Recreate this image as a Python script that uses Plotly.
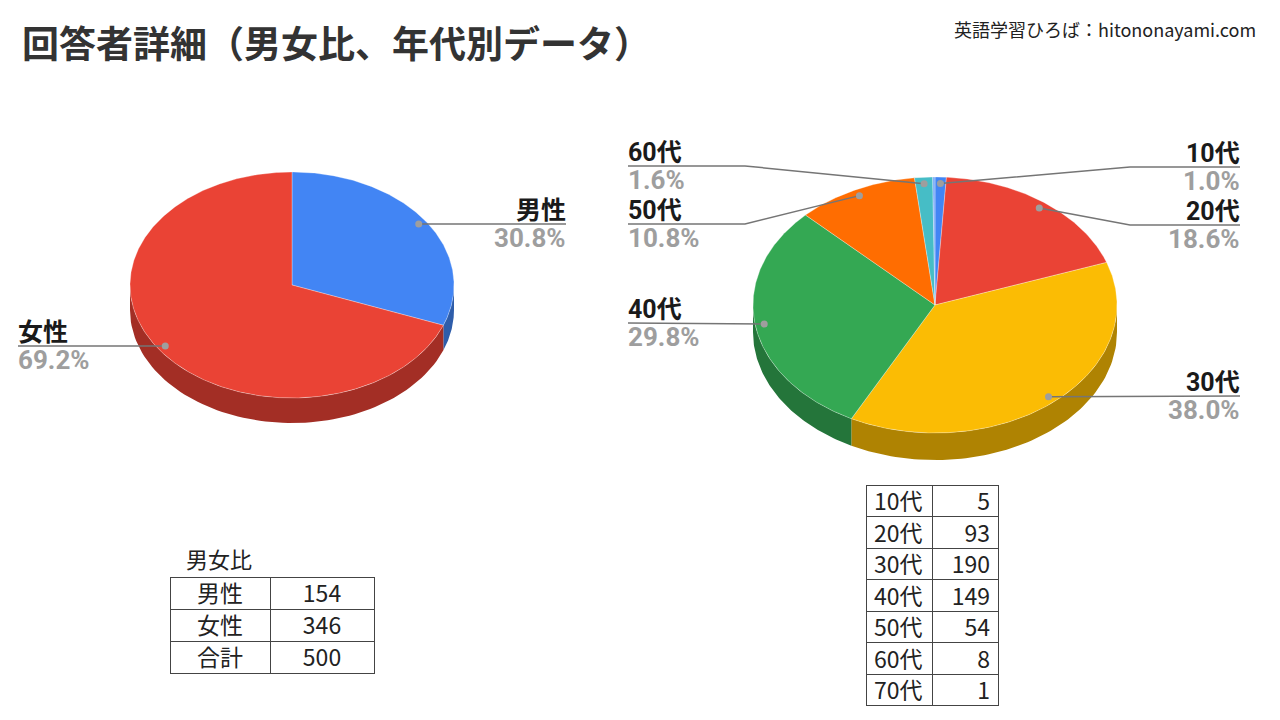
import numpy as np
import plotly.graph_objects as go

# ================== DATA ==================
gender_labels = ["男性", "女性"]
gender_counts = [154, 346]
age_labels = ["10代", "20代", "30代", "40代", "50代", "60代", "70代"]
age_counts = [5, 93, 190, 149, 54, 8, 1]

gender_colors = ["#4285f4", "#ea4335"]
age_colors = ["#4285f4", "#ea4335", "#fbbc04", "#34a853", "#ff6d01", "#46bdc6", "#7baaf7"]

# label placement per slice: (end x of leader, leader y, elbow x or None)
gender_label_pos = {
    "男性": (566, 224, None),
    "女性": (18, 346, None),
}
age_label_pos = {
    "10代": (1240, 167, 1130),
    "20代": (1240, 225, 1130),
    "30代": (1240, 396, None),
    "40代": (628, 323, None),
    "50代": (628, 224, 745),
    "60代": (628, 166, 745),
}

FONT = "Noto Sans CJK JP"
LBL_FONT = "Roboto, Noto Sans CJK JP"
OFF = 8  # page body margin in the browser


def darker(hex_color, f=0.7):
    h = hex_color.lstrip("#")
    r, g, b = (int(h[i:i + 2], 16) for i in (0, 2, 4))
    return f"rgb({int(r * f)},{int(g * f)},{int(b * f)})"


def ell(cx, cy, rx, ry, deg, k=1.0):
    t = np.radians(deg)
    return cx + rx * k * np.sin(t), cy - ry * k * np.cos(t)


def pie3d(fig, labels, counts, colors, cx, cy, rx, ry, depth, label_pos):
    total = sum(counts)
    cum = np.concatenate([[0], np.cumsum(counts)]) / total * 360.0
    # sides (front half only)
    for i in range(len(counts)):
        a0, a1 = max(cum[i], 90), min(cum[i + 1], 270)
        if a1 <= a0:
            continue
        t = np.linspace(a0, a1, 80)
        xs, ys = ell(cx, cy, rx, ry, t)
        px = np.concatenate([xs, xs[::-1]])
        py = np.concatenate([ys, ys[::-1] + depth])
        fig.add_trace(go.Scatter(x=px, y=py, fill="toself", mode="lines",
                                 fillcolor=darker(colors[i]), line=dict(width=0),
                                 hoverinfo="skip", showlegend=False))
    # top faces
    for i in range(len(counts)):
        t = np.linspace(cum[i], cum[i + 1], max(int((cum[i + 1] - cum[i]) * 2), 4))
        xs, ys = ell(cx, cy, rx, ry, t)
        px = np.concatenate([[cx], xs, [cx]])
        py = np.concatenate([[cy], ys, [cy]])
        fig.add_trace(go.Scatter(x=px, y=py, fill="toself", mode="lines",
                                 fillcolor=colors[i],
                                 line=dict(width=0.6, color="rgba(255,255,255,0.5)"),
                                 name=labels[i], hoverinfo="name", showlegend=False))
    # labels with leader lines
    for i, lab in enumerate(labels):
        if lab not in label_pos:
            continue
        end_x, ly, elbow = label_pos[lab]
        mid = (cum[i] + cum[i + 1]) / 2
        dx, dy = ell(cx, cy, rx, ry, mid, 0.95)
        lx = [dx] + ([elbow] if elbow else []) + [end_x]
        lyy = [dy] + ([ly] if elbow else []) + [ly]
        fig.add_trace(go.Scatter(x=lx, y=lyy, mode="lines",
                                 line=dict(color="#757575", width=1.5),
                                 hoverinfo="skip", showlegend=False))
        fig.add_trace(go.Scatter(x=[dx], y=[dy], mode="markers",
                                 marker=dict(color="#9e9e9e", size=7),
                                 hoverinfo="skip", showlegend=False))
        right = end_x > cx
        anchor = "right" if right else "left"
        xs_ = 2 if right else -2
        pct = f"{counts[i] / total * 100:.1f}%"
        fig.add_annotation(x=end_x, y=ly, text=f"<b>{lab}</b>", showarrow=False,
                           xanchor=anchor, yanchor="bottom", yshift=-3, xshift=xs_,
                           font=dict(family=LBL_FONT, size=25, color="#1a1a1a"))
        fig.add_annotation(x=end_x, y=ly, text=f"<b>{pct}</b>", showarrow=False,
                           xanchor=anchor, yanchor="top", yshift=3, xshift=xs_,
                           font=dict(family=LBL_FONT, size=26, color="#9e9e9e"))


fig = go.Figure()
pie3d(fig, gender_labels, gender_counts, gender_colors, 292, 285, 162, 113, 25, gender_label_pos)
pie3d(fig, age_labels, age_counts, age_colors, 935, 305, 182, 128, 27, age_label_pos)


def px_dom(x0, x1, y0, y1):
    # pixel box on the screen -> paper domain
    return dict(x=[(x0 - OFF) / 1280, (x1 - OFF) / 1280],
                y=[max(0, 1 - (y1 - OFF) / 720), 1 - (y0 - OFF) / 720])


# ================== TABLES ==================
g_col1 = gender_labels + ["合計"]
g_col2 = [str(v) for v in gender_counts + [sum(gender_counts)]]
cell_style = dict(line=dict(color="#444", width=1), fill=dict(color="white"),
                  font=dict(family=FONT, size=23, color="#222"), height=32)
fig.add_trace(go.Table(
    domain=px_dom(170, 374, 577, 680),
    columnwidth=[100, 104],
    header=dict(values=[g_col1[0], g_col2[0]], align="center", **cell_style),
    cells=dict(values=[g_col1[1:], g_col2[1:]], align="center", **cell_style),
))

a_col2 = [str(v) for v in age_counts]
cell_style2 = dict(cell_style, height=31.5)
fig.add_trace(go.Table(
    domain=px_dom(866, 998, 485, 728),
    columnwidth=[66, 66],
    header=dict(values=[age_labels[0], a_col2[0]], align=["left", "right"], **cell_style2),
    cells=dict(values=[age_labels[1:], a_col2[1:]], align=["left", "right"], **cell_style2),
))

# ================== TEXT ==================
fig.add_annotation(x=20, y=42, text="<b>回答者詳細（男女比、年代別データ）</b>", showarrow=False,
                   xanchor="left", yanchor="middle",
                   font=dict(family=FONT, size=37, color="#333333"))
fig.add_annotation(x=1258, y=29, text="英語学習ひろば：hitononayami.com", showarrow=False,
                   xanchor="right", yanchor="middle",
                   font=dict(family=FONT, size=18, color="#222222"))
fig.add_annotation(x=185, y=575, text="男女比", showarrow=False,
                   xanchor="left", yanchor="bottom", borderpad=0,
                   font=dict(family=FONT, size=22, color="#222222"))

# ================== LAYOUT ==================
fig.update_layout(
    width=1280, height=720,
    margin=dict(l=0, r=0, t=0, b=0),
    paper_bgcolor="white", plot_bgcolor="white",
    xaxis=dict(range=[OFF, 1280 + OFF], visible=False, fixedrange=True),
    yaxis=dict(range=[720 + OFF, OFF], visible=False, fixedrange=True),
    showlegend=False,
)

fig.write_html("out.html")
